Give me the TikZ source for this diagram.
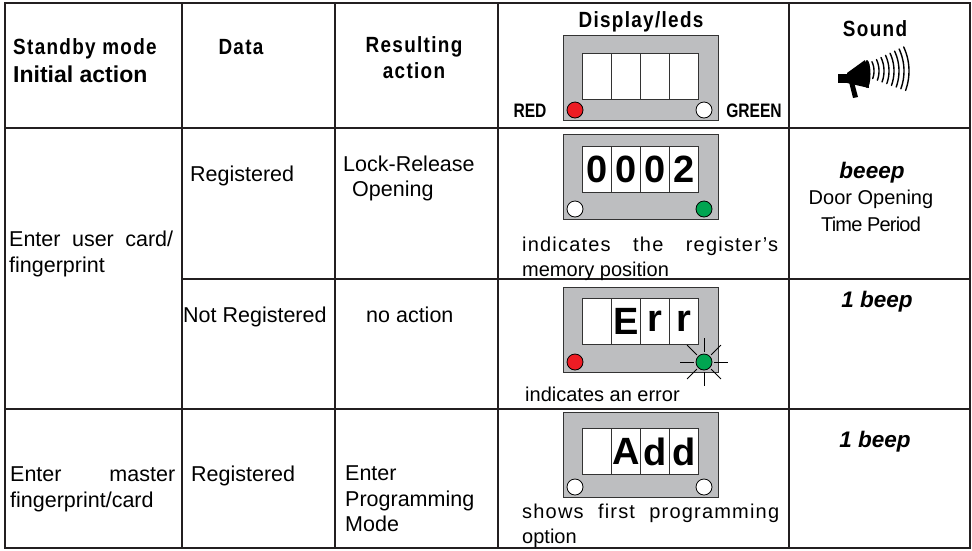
\documentclass[tikz,border=0pt]{standalone}
\usepackage{fontspec}
\setmainfont{Liberation Sans}
\newfontfamily\headfont[FakeStretch=0.86,LetterSpace=6]{Liberation Sans}
\newfontfamily\narrowfont[FakeStretch=0.8]{Liberation Sans}
\newfontfamily\widefont[LetterSpace=6]{Liberation Sans}
\usepackage{xcolor}
\definecolor{panelgray}{HTML}{BDBEC0}
\definecolor{ledred}{HTML}{ED1C24}
\definecolor{ledgreen}{HTML}{00A551}
\definecolor{rulecol}{HTML}{231F20}
\newcommand{\body}{\fontsize{21.5}{26}\selectfont}
\newcommand{\infotext}{\fontsize{20}{25}\selectfont}
% panel: name, top, window top, cell texts, left led, right led
\newcommand{\ledpanel}[6]{%
  \node[panelbox, anchor=north west] (#1) at (563,#2) {};
  \foreach \ch [count=\i from 0] in {#4}
    \node[digitcell, anchor=north west] (#1-\i) at ({582+29*\i},#3) {\ch};
  \node[led, fill=#5] (#1-l) at (575,{#2+75}) {};
  \node[led, fill=#6] (#1-r) at (704,{#2+75}) {};
}

\begin{document}
\begin{tikzpicture}[x=1pt, y=-1pt,
    rule/.style={draw=rulecol, line width=1.1pt},
    panelbox/.style={draw=black!80, line width=0.9pt, fill=panelgray,
      minimum width=155pt, minimum height=85pt, inner sep=0pt},
    digitcell/.style={draw=black!80, line width=0.9pt, fill=white,
      minimum width=29pt, minimum height=46pt, inner sep=0pt,
      font=\fontsize{38}{38}\bfseries},
    led/.style={circle, draw=black, line width=0.8pt, minimum size=16pt, inner sep=0pt},
    txt/.style={inner sep=0pt, font=\body},
    info/.style={inner sep=0pt, font=\infotext},
    wideinfo/.style={inner sep=0pt, font=\widefont\infotext},
    head/.style={inner sep=0pt, font=\headfont\bfseries\fontsize{22}{26}\selectfont},
    narrow/.style={inner sep=0pt, font=\narrowfont\bfseries\fontsize{19.5}{22}\selectfont},
    beepfont/.style={inner sep=0pt, font=\bfseries\itshape\fontsize{22.5}{26}\selectfont}]
  \useasboundingbox (0,0) rectangle (972,550);
  % Table grid
  \draw[rule, line width=1.4pt] (5,3) rectangle (970,548);
  \draw[rule, line width=2.4pt] (5,3) -- (5,548);
  \foreach \x in {182,335,498,789}
    \draw[rule] (\x,3) -- (\x,548);
  \draw[rule] (5,128) -- (970,128);
  \draw[rule] (182,279) -- (970,279);
  \draw[rule] (5,409) -- (970,409);

  % Header row
  \node[head, anchor=base west] (hstandby) at (13,54) {Standby mode};
  \node[anchor=base west, inner sep=0pt, font=\bfseries\fontsize{23}{27}\selectfont]
    (hinit) at (13,82) {Initial action};
  \node[head, anchor=base] (hdata) at (241,54) {Data};
  \node[head, anchor=base] (hres1) at (414,52) {Resulting};
  \node[head, anchor=base] (hres2) at (414,78) {action};
  \node[head, anchor=base] (hdisp) at (641,27) {Display/leds};
  \node[head, anchor=base] (hsound) at (875,36) {Sound};
  \ledpanel{hpanel}{35}{53}{{},{},{},{}}{ledred}{white}
  \node[narrow, anchor=base] (hred) at (530,117) {RED};
  \node[narrow, anchor=base] (hgreen) at (754,117) {GREEN};

  % Megaphone
  \fill[black] (838,74) rectangle (848,83);
  \fill[black] (847,73) -- (865,60) -- (869,88) -- (847,83) -- cycle;
  \fill[black] (867,74) ellipse[x radius=3.5, y radius=14];
  \fill[black] (849,82) -- (854,82) -- (858,97) -- (853,98) -- cycle;
  \foreach \r in {22,27,...,57}
    \draw[line width=1.4pt, line cap=round]
      plot[domain=-25:20, samples=15, smooth] ({852+\r*cos(\x)},{71+\r*sin(\x)});

  % User card, registered
  \node[txt, anchor=base west] (uenter1) at (9,246) {\makebox[164pt][s]{Enter user card/}};
  \node[txt, anchor=base west] (uenter2) at (9,272) {fingerprint};
  \node[txt, anchor=base west] (ureg) at (190,181) {Registered};
  \node[txt, anchor=base west] (lock1) at (343,171) {Lock-Release};
  \node[txt, anchor=base west] (lock2) at (352,196) {Opening};
  \ledpanel{okpanel}{134}{146}{0,0,0,2}{white}{ledgreen}
  \node[wideinfo, anchor=base west] (okinfo1) at (522,251) {\makebox[256pt][s]{indicates the register’s}};
  \node[info, anchor=base west] (okinfo2) at (522,276) {memory position};
  \node[beepfont, anchor=base] (beeep) at (872,178) {beeep};
  \node[info, anchor=base] (door1) at (871,204) {Door Opening};
  \node[info, anchor=base] (door2) at (871,231) {\addfontfeature{LetterSpace=-4}Time Period};

  % User card, not registered
  \node[txt, anchor=base west] (notreg) at (183,322) {Not Registered};
  \node[txt, anchor=base west] (noact) at (366,322) {no action};
  \ledpanel{errpanel}{287}{298}{{},E,r,r}{ledred}{ledgreen}
  \foreach \a in {0,45,...,315}
    \draw[line width=0.8pt] (errpanel-r) ++(\a:10) -- ++(\a:14);
  \node[info, anchor=base west] (errinfo) at (525,401) {indicates an error};
  \node[beepfont, anchor=base] (beep1) at (877,307) {1 beep};

  % Master card
  \node[txt, anchor=base west] (menter1) at (10,481) {\makebox[165pt][s]{Enter master}};
  \node[txt, anchor=base west] (menter2) at (10,507) {fingerprint/card};
  \node[txt, anchor=base west] (mreg) at (191,481) {Registered};
  \node[txt, anchor=base west] (prog1) at (345,480) {Enter};
  \node[txt, anchor=base west] (prog2) at (345,506) {Programming};
  \node[txt, anchor=base west] (prog3) at (345,531) {Mode};
  \ledpanel{addpanel}{412}{428}{{},A,d,d}{white}{white}
  \node[wideinfo, anchor=base west] (addinfo1) at (522,518) {\makebox[257pt][s]{shows first programming}};
  \node[info, anchor=base west] (addinfo2) at (522,543) {option};
  \node[beepfont, anchor=base] (beep2) at (875,447) {1 beep};
\end{tikzpicture}
\end{document}
